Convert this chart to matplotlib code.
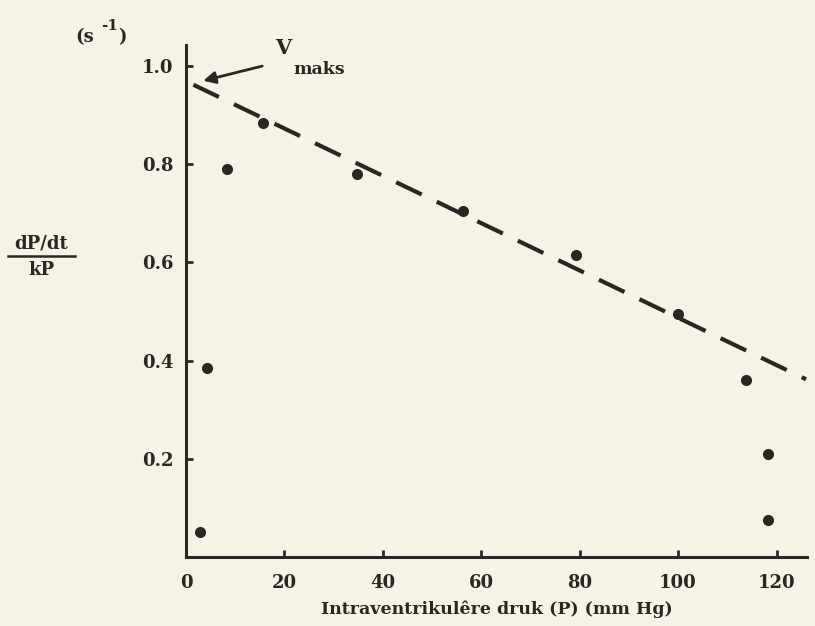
import matplotlib
matplotlib.use("Agg")
import matplotlib.pyplot as plt
from matplotlib.lines import Line2D

# data
pressure = [2.8, 4.3, 8.3, 15.7, 34.8, 56.3, 79.3, 100.0, 113.8, 118.3, 118.3]
ratio = [0.05, 0.385, 0.79, 0.885, 0.78, 0.705, 0.615, 0.495, 0.36, 0.21, 0.075]
fit_x = [1.5, 126.0]
fit_y = [0.962, 0.362]
vmax_point = (3.5, 0.97)
xticks = [0, 20, 40, 60, 80, 100, 120]
yticks = [0.2, 0.4, 0.6, 0.8, 1.0]
ytick_labels = ["0.2", "0.4", "0.6", "0.8", "1.0"]

ink = "#2b2622"
paper = "#f6f3e6"
font = dict(family="DejaVu Serif", weight="bold", color=ink)

fig = plt.figure(figsize=(8.15, 6.26), dpi=100, facecolor=paper)
ax = fig.add_axes([0.2282, 0.1102, 0.762, 0.818])
ax.set_facecolor(paper)

ax.plot(fit_x, fit_y, color=ink, lw=3, dashes=(6.8, 4), solid_capstyle="butt")
ax.plot(pressure, ratio, "o", color=ink, ms=8, mec="none")

ax.annotate("", xy=vmax_point, xytext=(15.5, 1.0),
            arrowprops=dict(arrowstyle="-|>", color=ink, lw=2,
                            mutation_scale=18, shrinkA=0, shrinkB=0))
# "V" with subscript "maks"
fig.text(291 / 815, 1 - 48 / 626, "V", fontsize=15, ha="right", va="center", **font)
fig.text(293 / 815, 1 - 70 / 626, "maks", fontsize=12.5, ha="left", va="center", **font)

ax.set_xlim(0, 126.2)
ax.set_ylim(0, 1.043)
ax.set_xticks(xticks)
ax.set_yticks(yticks)
ax.set_yticklabels(ytick_labels)
for s in ("top", "right"):
    ax.spines[s].set_visible(False)
for s in ("left", "bottom"):
    ax.spines[s].set_linewidth(2.2)
    ax.spines[s].set_color(ink)
ax.tick_params(direction="in", length=5, width=2, color=ink)
ax.tick_params(axis="x", pad=12)
ax.tick_params(axis="y", pad=9)
for lab in ax.get_xticklabels() + ax.get_yticklabels():
    lab.set_fontfamily("DejaVu Serif")
    lab.set_fontweight("bold")
    lab.set_fontsize(13)
    lab.set_color(ink)

ax.set_xlabel("Intraventrikulêre druk (P) (mm Hg)", fontsize=12.5, labelpad=6, **font)

# y label as a stacked fraction plus unit
fig.text(41 / 815, 1 - 243 / 626, "dP/dt", fontsize=13, ha="center", va="center", **font)
fig.text(41 / 815, 1 - 270 / 626, "kP", fontsize=13, ha="center", va="center", **font)
fig.add_artist(Line2D([8 / 815, 75 / 815], [1 - 256 / 626, 1 - 256 / 626],
                      color=ink, lw=1.8))
fig.text(85 / 815, 1 - 37 / 626, "(s", fontsize=13, ha="center", va="center", **font)
fig.text(110 / 815, 1 - 26 / 626, "-1", fontsize=11, ha="center", va="center", **font)
fig.text(122 / 815, 1 - 37 / 626, ")", fontsize=13, ha="center", va="center", **font)

fig.savefig("out.png", dpi=100, facecolor=paper)
